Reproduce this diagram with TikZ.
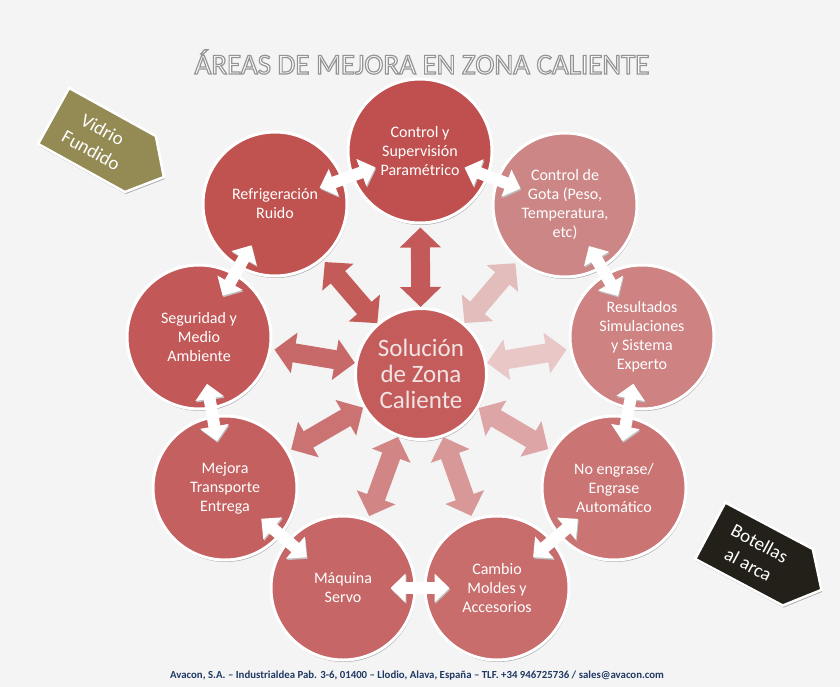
\documentclass[tikz,border=0pt]{standalone}
\usepackage{fontspec}
\setmainfont{Carlito}
\usetikzlibrary{arrows.meta,shapes.symbols,shadows}

% circle fills, from darkest to lightest
\definecolor{rojoctrl}{RGB}{192,80,80}
\definecolor{rojorefri}{RGB}{192,82,80}
\definecolor{rojoseg}{RGB}{194,88,88}
\definecolor{rojomejora}{RGB}{196,96,96}
\definecolor{rojomaq}{RGB}{198,102,102}
\definecolor{rojocambio}{RGB}{200,108,108}
\definecolor{rojoengr}{RGB}{202,116,116}
\definecolor{rojores}{RGB}{206,130,130}
\definecolor{rojogota}{RGB}{204,134,134}
\definecolor{rojosol}{RGB}{196,92,92}
\definecolor{textosol}{RGB}{242,228,228}
\definecolor{oliva}{RGB}{148,138,84}
\definecolor{negro}{RGB}{35,32,26}
\definecolor{pie}{RGB}{31,56,100}
\definecolor{fondo}{RGB}{244,244,244}

\tikzset{
  area/.style={circle,fill=#1,draw=white,line width=3pt,minimum size=144pt,inner sep=0pt,
    align=center,text=white,font=\fontsize{16}{19}\selectfont,
    drop shadow={shadow xshift=0.8pt,shadow yshift=-2pt,opacity=0.3,fill=black}},
  nucleo/.style={circle,fill=rojosol,draw=white,line width=3pt,minimum size=131pt,inner sep=0pt,
    align=center,text=textosol,font=\fontsize{25}{26}\selectfont,
    drop shadow={shadow xshift=0.8pt,shadow yshift=-2pt,opacity=0.3,fill=black}},
  rayo/.style={draw=#1,line width=19pt,{Triangle[width=40pt,length=20pt]}-{Triangle[width=40pt,length=20pt]},
    shorten <=0pt,shorten >=3pt},
  anillo/.style={draw=white,line width=12pt,{Triangle[width=28pt,length=15pt]}-{Triangle[width=28pt,length=15pt]},
    shorten <=-26pt,shorten >=-26pt,
    preaction={draw=black!25,transform canvas={xshift=0.8pt,yshift=-1.5pt}}},
  banderin/.style={signal,signal to=east,signal pointer angle=100,fill=#1,draw=white,line width=2.5pt,
    minimum width=126pt,minimum height=64pt,inner sep=0pt,align=center,text=white,
    font=\fontsize{19}{24}\selectfont,
    drop shadow={shadow xshift=0.8pt,shadow yshift=-2pt,opacity=0.3,fill=black}},
}

\begin{document}
\begin{tikzpicture}[x=1pt,y=-1pt]
  \fill[fondo] (0,0) rectangle (840,687);
  \useasboundingbox (0,0) rectangle (840,687);

  % title, white letters with a grey outline
  \node[font=\fontsize{29}{29}\selectfont,text=white] (titulo) at (422,62)
    {\special{pdf:literal direct 2 Tr 1.2 w 0.58 0.58 0.58 RG}ÁREAS DE MEJORA EN ZONA CALIENTE\special{pdf:literal direct 0 Tr}};

  % corner tags
  \node[banderin=oliva,rotate=-29] (vidrio) at (97,140) {Vidrio\\Fundido};
  \node[banderin=negro,rotate=-28] (botellas) at (754,554) {Botellas\\al arca};

  % ring of areas
  \node[area=rojoctrl] (ctrl) at (420,151) {Control y\\Supervisión\\Paramétrico};
  \node[area=rojogota] (gota) at (565,205) {Control de\\Gota (Peso,\\Temperatura,\\etc)};
  \node[area=rojores] (result) at (642,337) {Resultados\\Simulaciones\\y Sistema\\Experto};
  \node[area=rojoengr] (engrase) at (614,488) {No engrase/\\Engrase\\Automático};
  \node[area=rojocambio] (cambio) at (497,588) {Cambio\\Moldes y\\Accesorios};
  \node[area=rojomaq] (maquina) at (343,588) {Máquina\\Servo};
  \node[area=rojomejora] (mejora) at (225,488) {Mejora\\Transporte\\Entrega};
  \node[area=rojoseg] (seguridad) at (199,337) {Seguridad y\\Medio\\Ambiente};
  \node[area=rojorefri] (refrig) at (275,204) {Refrigeración\\Ruido};

  % centre
  \node[nucleo] (sol) at (421,374) {Solución\\de Zona\\Caliente};

  % arrows from the centre
  \foreach \dest/\tono in {ctrl/rojoctrl!95,gota/rojogota!55,result/rojores!45,engrase/rojoengr!65,
      cambio/rojocambio!70,maquina/rojomaq!80,mejora/rojomejora!88,seguridad/rojoseg!90,refrig/rojorefri!95}
    \draw[rayo=\tono] (sol) -- (\dest);

  % white arrows round the ring
  \foreach \a/\b in {ctrl/gota,gota/result,result/engrase,engrase/cambio,cambio/maquina,
      maquina/mejora,mejora/seguridad,seguridad/refrig,refrig/ctrl}
    \draw[anillo] (\a) -- (\b);

  % footer
  \node[font=\fontsize{10.8}{12}\bfseries,text=pie] (pie) at (417,676)
    {Avacon, S.A. -- Industrialdea Pab. 3-6, 01400 -- Llodio, Alava, España -- TLF. +34 946725736 / sales@avacon.com};
\end{tikzpicture}
\end{document}
